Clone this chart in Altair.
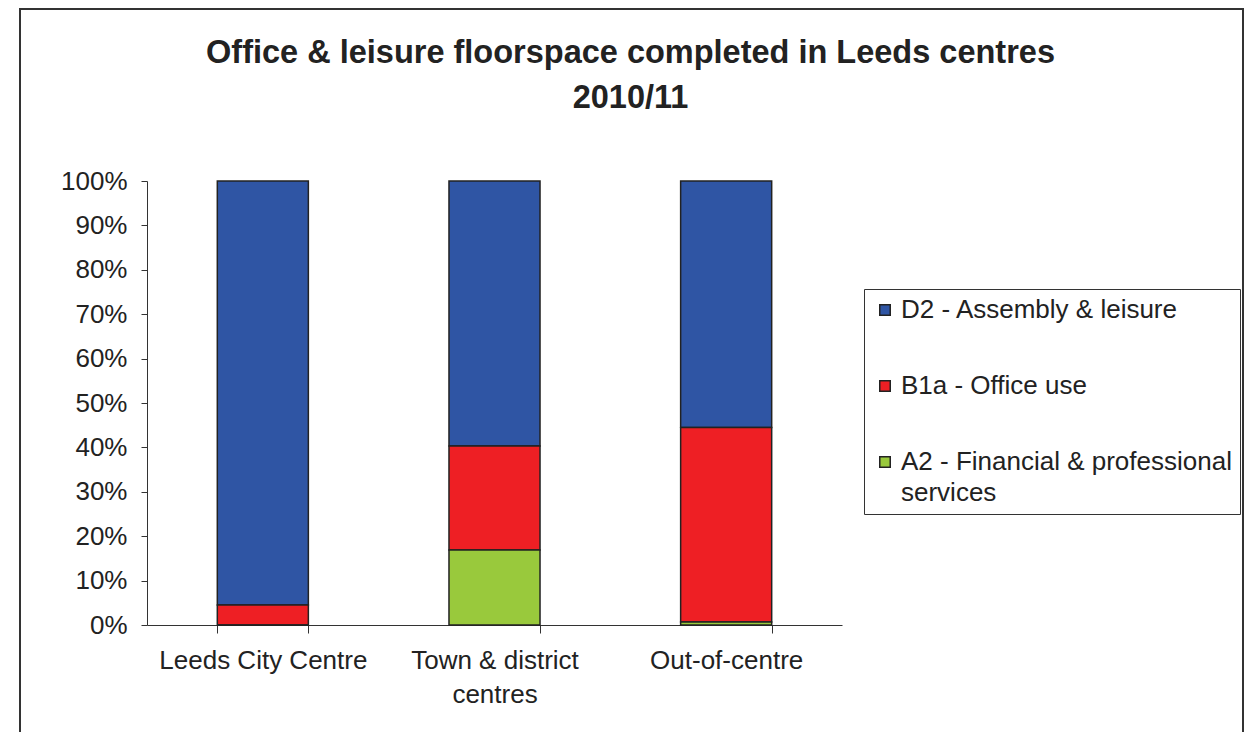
import altair as alt
import pandas as pd

categories = ["Leeds City Centre", "Town & district centres", "Out-of-centre"]
series = ["D2 - Assembly & leisure", "B1a - Office use", "A2 - Financial & professional services"]
d2_values = [95.5, 59.7, 55.5]
b1a_values = [4.5, 23.4, 43.8]
a2_values = [0.0, 16.9, 0.7]
stack_order = [3, 2, 1]
colors = ["#2F55A4", "#EE1F24", "#99C93C"]

rows = []
for i, c in enumerate(categories):
    for s, vals, o in zip(series, [d2_values, b1a_values, a2_values], stack_order):
        rows.append({"centre": c, "use": s, "value": vals[i], "order": o})
df = pd.DataFrame(rows)

FONT = "Liberation Sans"
FS = 26

bars = alt.Chart(df).mark_bar(stroke="#222222", strokeWidth=1.5).encode(
    x=alt.X("centre:N", sort=categories, title=None,
            scale=alt.Scale(paddingInner=0.607, paddingOuter=0.3035),
            axis=alt.Axis(labelAngle=0, tickBand="extent", tickSize=8, labelPadding=14,
                          labelFontSize=FS, labelFont=FONT, labelColor="#222222", labelLimit=400,
                          domainColor="#333333", tickColor="#333333", labelLineHeight=34,
                          labelExpr="datum.value == 'Town & district centres' ? ['Town & district', 'centres'] : datum.value")),
    y=alt.Y("value:Q", stack="normalize", title=None,
            scale=alt.Scale(domain=[0, 1]),
            axis=alt.Axis(values=[0, 0.1, 0.2, 0.3, 0.4, 0.5, 0.6, 0.7, 0.8, 0.9, 1.0], format=".0%",
                          grid=False, tickSize=6, labelPadding=14, labelFontSize=FS, labelFont=FONT,
                          labelColor="#222222", domainColor="#333333", tickColor="#333333")),
    color=alt.Color("use:N", sort=series, scale=alt.Scale(domain=series, range=colors),
                    legend=alt.Legend(title=None, orient="none", legendX=717, legendY=108,
                                      symbolType="square", symbolSize=110, symbolStrokeColor="#222222",
                                      symbolStrokeWidth=1.5, labelFontSize=FS, labelFont=FONT,
                                      labelColor="#222222", labelLimit=400, rowPadding=50,
                                      strokeColor="#333333", padding=8, labelOffset=3,
                                      labelExpr="datum.label == 'A2 - Financial & professional services' ? ['A2 - Financial & professional', 'services'] : datum.label")),
    order=alt.Order("order:Q"),
)

frame = alt.Chart(pd.DataFrame({"a": [0]})).mark_rect(fill=None, stroke="#333333", strokeWidth=2).encode(
    x=alt.value(-127), x2=alt.value(1096), y=alt.value(-172), y2=alt.value(700)
)

chart = alt.layer(frame, bars).properties(
    width=695, height=444,
    padding={"left": 139, "top": 173, "right": 402, "bottom": 107},
    autosize=alt.AutoSizeParams(type="none"),
    title=alt.TitleParams(text=["Office & leisure floorspace completed in Leeds centres", "2010/11"],
                          font=FONT, fontSize=32.5, fontWeight="bold", color="#222222",
                          anchor="middle", dx=136, dy=106, offset=0, lineHeight=45),
).configure(style={"guide-label": {"lineHeight": 31}}, view=alt.ViewConfig(stroke=None))

chart.save("out.html", embed_options={"renderer": "svg", "actions": False})
